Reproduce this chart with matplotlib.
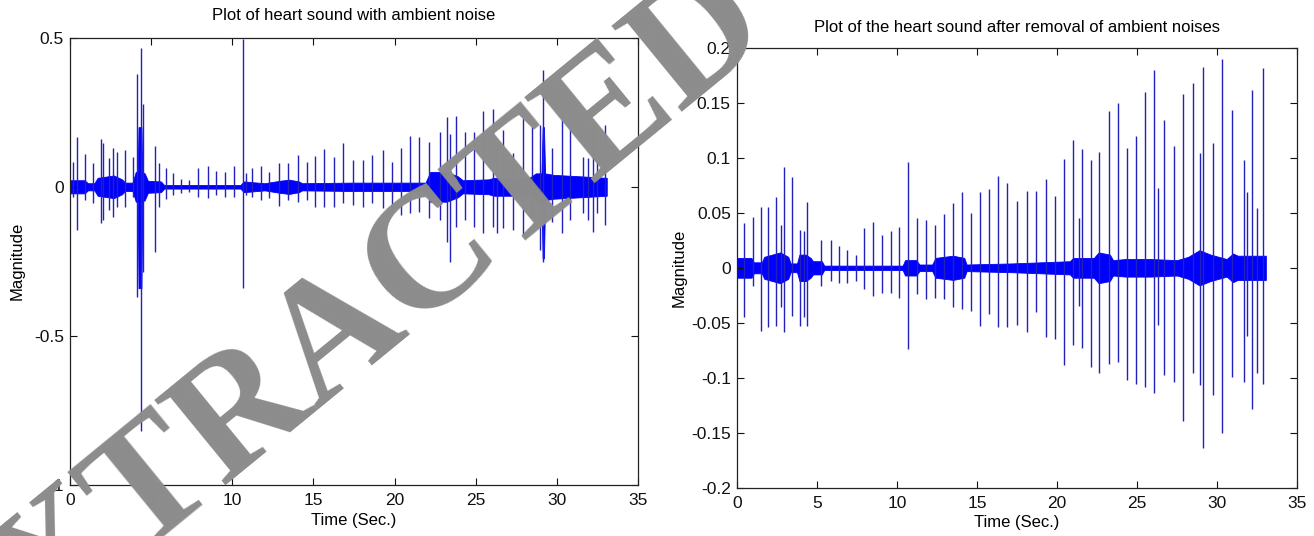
import numpy as np
import matplotlib.pyplot as plt

plt.rcParams['font.family'] = ['Liberation Sans', 'DejaVu Sans']

# ---- left plot: heart sound with ambient noise ----
# spikes: time (s), top value, bottom value
noisy_t = [0.21, 0.41, 0.95, 1.44, 1.93, 2.01, 2.38, 2.65, 2.90, 3.37, 3.86, 4.11, 4.35, 4.52,
           5.22, 5.46, 5.92, 6.37, 6.86, 7.35, 7.91, 8.48, 9.01, 9.57, 10.08, 10.64, 10.84, 11.19,
           11.77, 12.28, 12.86, 13.41, 14.03, 14.58, 15.11, 15.67, 16.27, 16.84, 17.46, 18.03,
           18.63, 19.27, 19.82, 20.39, 20.95, 21.52, 22.12, 22.80, 23.21, 23.41, 23.78, 24.34,
           24.90, 25.47, 26.04, 26.29, 26.70, 27.31, 27.89, 28.45, 28.96, 29.16, 29.68, 30.29,
           30.81, 31.63, 31.93, 32.24, 32.49, 32.96]
noisy_top = [0.084, 0.168, 0.110, 0.081, 0.159, 0.146, 0.096, 0.131, 0.118, 0.123, 0.099, 0.379,
             0.464, 0.278, 0.138, 0.081, 0.064, 0.045, 0.025, 0.022, 0.062, 0.070, 0.053, 0.051,
             0.070, 0.495, 0.047, 0.064, 0.071, 0.051, 0.079, 0.081, 0.107, 0.084, 0.103, 0.126,
             0.101, 0.146, 0.090, 0.090, 0.107, 0.123, 0.084, 0.129, 0.170, 0.168, 0.151, 0.185,
             0.233, 0.176, 0.237, 0.185, 0.185, 0.255, 0.260, 0.153, 0.190, 0.112, 0.230, 0.218,
             0.207, 0.392, 0.129, 0.241, 0.218, 0.101, 0.098, 0.190, 0.090, 0.207]
noisy_bot = [-0.033, -0.145, -0.044, -0.055, -0.122, -0.111, -0.078, -0.102, -0.067, -0.067,
             -0.033, -0.370, -0.818, -0.285, -0.217, -0.069, -0.040, -0.027, -0.022, -0.018,
             -0.035, -0.036, -0.027, -0.033, -0.033, -0.340, -0.027, -0.033, -0.044, -0.039,
             -0.064, -0.044, -0.050, -0.044, -0.069, -0.069, -0.067, -0.055, -0.061, -0.067,
             -0.055, -0.072, -0.078, -0.095, -0.089, -0.083, -0.106, -0.111, -0.184, -0.251,
             -0.134, -0.111, -0.134, -0.156, -0.134, -0.156, -0.139, -0.145, -0.162, -0.100,
             -0.212, -0.251, -0.117, -0.156, -0.111, -0.089, -0.111, -0.151, -0.089, -0.128]
# dense background band: knot times, upper and lower envelope
noisy_band_t = [0.0, 0.9, 1.1, 1.5, 1.7, 2.7, 3.2, 3.4, 3.85, 4.05,
                4.17, 4.22, 4.4, 4.45, 4.6, 4.8, 5.6, 5.8, 10.5, 10.7,
                12.0, 12.9, 13.5, 14.1, 14.3, 17.3, 21.9, 22.2, 23.2, 23.9,
                24.2, 25.8, 26.1, 28.3, 28.7, 29.05, 29.12, 29.2, 29.27, 29.8,
                31.5, 33.07]
noisy_band_hi = [0.022, 0.022, 0.012, 0.012, 0.030, 0.038, 0.025, 0.014, 0.014, 0.050,
                 0.050, 0.200, 0.200, 0.050, 0.045, 0.020, 0.018, 0.006, 0.006, 0.018,
                 0.012, 0.020, 0.024, 0.018, 0.012, 0.014, 0.014, 0.050, 0.050, 0.035,
                 0.022, 0.025, 0.030, 0.030, 0.045, 0.045, 0.200, 0.200, 0.045, 0.040,
                 0.035, 0.030]
noisy_band_lo = [-0.022, -0.022, -0.012, -0.012, -0.030, -0.038, -0.025, -0.014, -0.014, -0.050,
                 -0.050, -0.340, -0.340, -0.050, -0.045, -0.020, -0.018, -0.006, -0.006, -0.018,
                 -0.012, -0.020, -0.024, -0.018, -0.012, -0.014, -0.014, -0.050, -0.050, -0.035,
                 -0.022, -0.025, -0.030, -0.030, -0.045, -0.045, -0.240, -0.240, -0.045, -0.040,
                 -0.035, -0.030]

# ---- right plot: heart sound after removal of ambient noises ----
clean_t = [0.42, 0.98, 1.48, 1.94, 2.44, 2.73, 2.92, 3.44, 3.96, 4.17, 4.375, 5.27, 5.90, 6.40,
           6.90, 7.44, 7.94, 8.50, 9.04, 9.60, 10.10, 10.67, 11.25, 11.81, 12.35, 12.92, 13.48,
           14.06, 14.60, 15.17, 15.73, 16.31, 16.90, 17.52, 18.10, 18.67, 19.29, 19.875, 20.44,
           20.98, 21.35, 21.54, 22.10, 22.65, 23.23, 23.79, 24.36, 24.92, 25.50, 26.06, 26.29,
           26.69, 27.31, 27.90, 28.48, 28.94, 29.10, 29.73, 30.31, 30.95, 31.70, 31.90, 32.21,
           32.48, 32.90]
clean_top = [0.0405, 0.0465, 0.0556, 0.0556, 0.0646, 0.039, 0.0916, 0.0826, 0.0345, 0.033, 0.060,
             0.0255, 0.0255, 0.0195, 0.0165, 0.012, 0.036, 0.042, 0.030, 0.0336, 0.0375, 0.0961,
             0.045, 0.043, 0.039, 0.0486, 0.0586, 0.0685, 0.0495, 0.0685, 0.072, 0.0835, 0.0766,
             0.0605, 0.0696, 0.070, 0.0807, 0.065, 0.099, 0.1157, 0.045, 0.108, 0.098, 0.105,
             0.1425, 0.150, 0.109, 0.120, 0.160, 0.180, 0.0726, 0.134, 0.111, 0.158, 0.1675,
             0.104, 0.1825, 0.113, 0.190, 0.143, 0.098, 0.069, 0.1614, 0.0545, 0.1816]
clean_bot = [-0.045, -0.0165, -0.057, -0.054, -0.0526, -0.036, -0.0586, -0.0435, -0.0526, -0.045,
             -0.0526, -0.0165, -0.012, -0.014, -0.014, -0.012, -0.0195, -0.0255, -0.0225, -0.0225,
             -0.027, -0.0736, -0.024, -0.0285, -0.027, -0.0285, -0.036, -0.0375, -0.039, -0.0526,
             -0.042, -0.0535, -0.0535, -0.052, -0.058, -0.040, -0.063, -0.0645, -0.0886, -0.0705,
             -0.035, -0.0726, -0.090, -0.096, -0.087, -0.0855, -0.102, -0.106, -0.108, -0.1136,
             -0.052, -0.0976, -0.1036, -0.139, -0.0955, -0.1066, -0.164, -0.1157, -0.1497,
             -0.099, -0.1036, -0.062, -0.1286, -0.096, -0.106]
clean_band_t = [0.0, 0.9, 1.05, 1.55, 1.7, 2.7, 3.2, 3.35, 3.75, 3.9,
                4.3, 4.6, 4.75, 5.3, 5.45, 10.35, 10.5, 11.2, 11.4, 12.2,
                12.4, 13.5, 14.2, 14.35, 17.2, 20.8, 21.0, 22.3, 22.6, 23.3,
                23.5, 24.3, 25.8, 27.5, 28.2, 28.9, 29.6, 30.6, 31.0, 31.3,
                33.05]
clean_band_amp = [0.009, 0.009, 0.005, 0.005, 0.010, 0.014, 0.010, 0.004, 0.004, 0.012,
                  0.012, 0.009, 0.006, 0.006, 0.002, 0.002, 0.007, 0.007, 0.003, 0.003,
                  0.009, 0.011, 0.009, 0.003, 0.004, 0.006, 0.009, 0.009, 0.014, 0.012,
                  0.007, 0.008, 0.008, 0.007, 0.010, 0.016, 0.012, 0.008, 0.013, 0.011,
                  0.011]

x_ticks = [0, 5, 10, 15, 20, 25, 30, 35]
noisy_yticks = [-1, -0.5, 0, 0.5]
noisy_ylabels = ['-1', '-0.5', '0', '0.5']
clean_yticks = [-0.2, -0.15, -0.1, -0.05, 0, 0.05, 0.1, 0.15, 0.2]
clean_ylabels = ['-0.2', '-0.15', '-0.1', '-0.05', '0', '0.05', '0.1', '0.15', '0.2']


def draw_signal(ax, band_t, band_hi, band_lo, sp_t, sp_top, sp_bot):
    ax.fill_between(band_t, band_lo, band_hi, facecolor='#0000ff',
                    edgecolor='#0000ff', lw=0.6)
    ax.vlines(sp_t, sp_bot, sp_top, color='#2222bb', lw=1.0)


def style_axes(ax, yticks, ylabels, ylim, title, title_pad, ylab_pad):
    ax.set_xlim(0, 35)
    ax.set_ylim(*ylim)
    ax.set_xticks(x_ticks)
    ax.set_xticklabels([str(v) for v in x_ticks])
    ax.set_yticks(yticks)
    ax.set_yticklabels(ylabels)
    ax.tick_params(direction='in', top=True, right=True, length=5, width=0.8,
                   labelsize=12.5, colors='#111111')
    ax.tick_params(axis='x', pad=6)
    ax.tick_params(axis='y', pad=4.5)
    for s in ax.spines.values():
        s.set_linewidth(0.9)
        s.set_color('#222222')
    ax.set_title(title, fontsize=12, pad=title_pad)
    ax.set_xlabel('Time (Sec.)', fontsize=12, labelpad=3)
    ax.set_ylabel('Magnitude', fontsize=12, labelpad=ylab_pad)


fig = plt.figure(figsize=(13.14, 5.36), dpi=100)
ax1 = fig.add_axes([0.0533, 0.0951, 0.4323, 0.8346])
ax2 = fig.add_axes([0.5609, 0.0896, 0.4262, 0.8215])

draw_signal(ax1, noisy_band_t, noisy_band_hi, noisy_band_lo, noisy_t, noisy_top, noisy_bot)
style_axes(ax1, noisy_yticks, noisy_ylabels, (-1, 0.5),
           'Plot of heart sound with ambient noise', 13, 6.5)

amp = np.array(clean_band_amp)
draw_signal(ax2, clean_band_t, amp, -amp, clean_t, clean_top, clean_bot)
style_axes(ax2, clean_yticks, clean_ylabels, (-0.2, 0.2),
           'Plot of the heart sound after removal of ambient noises', 11, 3.5)

# watermark over the whole figure
fig.text(0.2572, 0.3694, 'EXTRACTED', rotation=39.3, rotation_mode='anchor', fontsize=121.5,
         family='Liberation Serif', weight='bold', color='#8c8c8c',
         ha='center', va='center', zorder=20)

fig.savefig('out.png', dpi=100)
